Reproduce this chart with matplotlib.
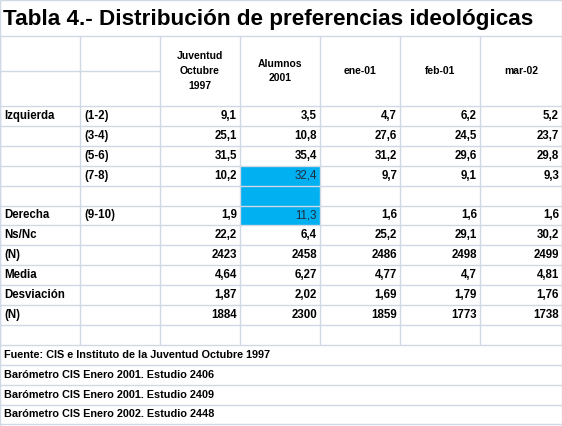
import matplotlib.pyplot as plt
from matplotlib.patches import Rectangle

title = "Tabla 4.- Distribución de preferencias ideológicas"
col_headers = ["Juventud\nOctubre\n1997", "Alumnos\n2001", "ene-01", "feb-01", "mar-02"]
row_labels = ["Izquierda", "", "", "", "", "Derecha", "Ns/Nc", "(N)", "Media", "Desviación", "(N)", ""]
row_ranges = ["(1-2)", "(3-4)", "(5-6)", "(7-8)", "", "(9-10)", "", "", "", "", "", ""]
values = [
    ["9,1", "3,5", "4,7", "6,2", "5,2"],
    ["25,1", "10,8", "27,6", "24,5", "23,7"],
    ["31,5", "35,4", "31,2", "29,6", "29,8"],
    ["10,2", "32,4", "9,7", "9,1", "9,3"],
    ["", "", "", "", ""],
    ["1,9", "11,3", "1,6", "1,6", "1,6"],
    ["22,2", "6,4", "25,2", "29,1", "30,2"],
    ["2423", "2458", "2486", "2498", "2499"],
    ["4,64", "6,27", "4,77", "4,7", "4,81"],
    ["1,87", "2,02", "1,69", "1,79", "1,76"],
    ["1884", "2300", "1859", "1773", "1738"],
    ["", "", "", "", ""],
]
footnotes = [
    "Fuente: CIS e Instituto de la Juventud Octubre 1997",
    "Barómetro CIS Enero 2001. Estudio 2406",
    "Barómetro CIS Enero 2001. Estudio 2409",
    "Barómetro CIS Enero 2002. Estudio 2448",
]
highlight = {(3, 1), (4, 1), (5, 1)}

W, H = 562, 426
col_x = [0, 80, 160, 240, 320, 400, 480, 562]
title_h = 36
head_top, head_bot = 36, 106
row_h = 19.9
grid = "#d0d7e5"
font = "Liberation Sans"

fig = plt.figure(figsize=(W / 100, H / 100), dpi=100)
ax = fig.add_axes([0, 0, 1, 1])
ax.set_xlim(0, W)
ax.set_ylim(H, 0)
ax.axis("off")

n = len(values)
body_bot = head_bot + n * row_h

# highlighted cells
for r, c in highlight:
    ax.add_patch(Rectangle((col_x[c + 2], head_bot + r * row_h), col_x[c + 3] - col_x[c + 2], row_h,
                           facecolor="#00b0f0", edgecolor="none", zorder=1))

# grid lines
ax.hlines([0, title_h, head_bot], 0, W, colors=grid, lw=1, zorder=2)
ax.hlines(71, 0, col_x[2], colors=grid, lw=1, zorder=2)
for i in range(1, n + 1 + len(footnotes)):
    ax.hlines(head_bot + i * row_h, 0, W, colors=grid, lw=1, zorder=2)
for x in col_x:
    ax.vlines(x, head_top, body_bot, colors=grid, lw=1, zorder=2)
ax.vlines([0, W - 0.5], 0, H, colors=grid, lw=1, zorder=2)

ax.text(3, title_h / 2 + 1, title, fontsize=16.2, fontweight="bold", family=font, va="center", ha="left")

for j, h in enumerate(col_headers):
    ax.text((col_x[j + 2] + col_x[j + 3]) / 2, (head_top + head_bot) / 2, h, fontsize=7.5,
            fontweight="bold", family=font, ha="center", va="center", linespacing=1.6)

for i in range(n):
    yc = head_bot + (i + 0.5) * row_h
    ax.text(4, yc, row_labels[i], fontsize=8.3, fontweight="bold", family=font, va="center")
    ax.text(col_x[1] + 4, yc, row_ranges[i], fontsize=8.3, fontweight="bold", family=font, va="center")
    for j, v in enumerate(values[i]):
        hl = (i, j) in highlight
        ax.text(col_x[j + 3] - 3, yc, v, fontsize=8.3, fontweight="normal" if hl else "bold",
                color="#1f2d3d" if hl else "black", family=font, va="center", ha="right", zorder=3)

for k, f in enumerate(footnotes):
    yc = body_bot + (k + 0.5) * row_h
    ax.text(4, yc, f, fontsize=7.8, fontweight="bold", family=font, va="center")

fig.savefig("out.png", dpi=100, facecolor="white")
